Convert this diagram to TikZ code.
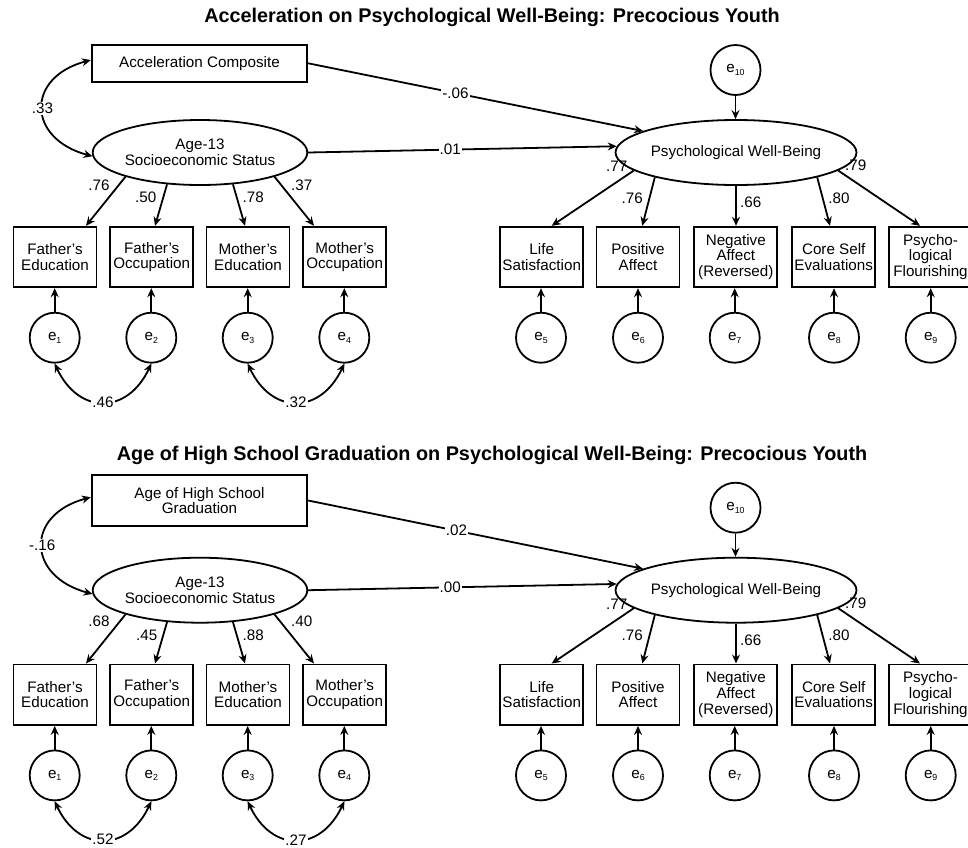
\documentclass[tikz,border=0pt]{standalone}
\usepackage{fontspec}
\setmainfont{Liberation Sans}
\usetikzlibrary{arrows.meta,shapes.geometric}
\newcommand\esub[1]{e\raisebox{-0.35ex}{\fontsize{8.8}{9}\selectfont #1}}
\tikzset{
  lw/.style={line width=1.8pt},
  ttl/.style={anchor=base, font=\fontsize{19.8}{22}\selectfont\bfseries, inner sep=0pt},
  obs/.style={draw, lw, rectangle, inner sep=0pt, align=center, font=\fontsize{15.2}{15.7}\selectfont},
  ind/.style={obs, minimum width=83, minimum height=60.6},
  lat/.style={draw, lw, ellipse, inner sep=0pt, align=center, font=\fontsize{15.2}{16.5}\selectfont},
  err/.style={draw, lw, circle, minimum size=50, inner sep=0pt, font=\fontsize{15.2}{15.7}\selectfont},
  tip/.tip={Stealth[length=9pt,width=8pt,inset=3pt]},
  arr/.style={lw, -tip},
  biarr/.style={lw, tip-tip},
  lbl/.style={font=\fontsize{15.2}{15.7}\selectfont, inner sep=1pt},
  lblw/.style={lbl, fill=white},
}
\begin{document}
\begin{tikzpicture}[x=1pt,y=1pt]
\useasboundingbox (0,0) rectangle (968,-847);
\clip (0,0) rectangle (968,-847);
\fill[white] (0,0) rectangle (968,-847);

% ================= TOP PANEL =================
\node[ttl] (t0) at (492,-22.7) {Acceleration on Psychological Well-Being: Precocious Youth};
\node[obs, minimum width=215.6, minimum height=36.7] (tacc) at (199.5,-63.3) {Acceleration Composite};
\node[lat, minimum width=214.6, minimum height=65] (tses) at (200,-152.5) {Age-13\\Socioeconomic Status};
\node[lat, minimum width=214, minimum height=65] (tpwb) at (736,-152.5) {Psychological Well-Being};
\node[err] (te10) at (735.5,-70) {\esub{10}};

\node[ind] (tfe) at (55,-257) {Father's\\Education};
\node[ind] (tfo) at (151.7,-257) {Father's\\Occupation};
\node[ind] (tme) at (248,-257) {Mother's\\Education};
\node[ind] (tmo) at (344.7,-257) {Mother's\\Occupation};
\node[ind] (tls) at (541.7,-257) {Life\\Satisfaction};
\node[ind] (tpa) at (638,-257) {Positive\\Affect};
\node[ind] (tna) at (735.8,-257) {Negative\\Affect\\(Reversed)};
\node[ind] (tcs) at (833.7,-257) {Core Self\\Evaluations};
\node[ind] (tpf) at (930.5,-257) {Psycho-\\logical\\Flourishing};

\node[err] (te1) at (54.7,-337.7) {\esub{1}};
\node[err] (te2) at (151.3,-337.7) {\esub{2}};
\node[err] (te3) at (247.7,-337.7) {\esub{3}};
\node[err] (te4) at (344.3,-337.7) {\esub{4}};
\node[err] (te5) at (541,-337.7) {\esub{5}};
\node[err] (te6) at (638,-337.7) {\esub{6}};
\node[err] (te7) at (734.7,-337.7) {\esub{7}};
\node[err] (te8) at (834,-337.7) {\esub{8}};
\node[err] (te9) at (930.7,-337.7) {\esub{9}};

\draw[arr] (te10.south) -- (te10.south |- tpwb.north);
\draw[arr] (tacc.east) -- (tpwb.167) node[lblw,pos=0.44] (tp1) {-.06};
\draw[arr] (tses.east) -- (tpwb.177) node[lblw,pos=0.46] (tp2) {.01};
\draw[biarr] ([yshift=3.3]tacc.west) to[out=195,in=165,looseness=1.8] node[lblw] (tc0) {.33} (tses.182);

\draw[arr] (tses.198) -- ([xshift=31]tfe.north);
\draw[arr] (tses.224) -- ([xshift=3.3]tfo.north);
\draw[arr] (tses.316) -- ([xshift=-3]tme.north);
\draw[arr] (tses.342) -- ([xshift=-30.7]tmo.north);
\node[lbl] (tl1) at (99,-185) {.76};
\node[lbl] (tl2) at (145.7,-197.3) {.50};
\node[lbl] (tl3) at (253.3,-197.3) {.78};
\node[lbl] (tl4) at (301.7,-185) {.37};

\draw[arr] (tpwb.190) -- ([xshift=10]tls.north);
\draw[arr] (tpwb.197) -- ([xshift=4.3]tpa.north);
\draw[arr] (tpwb.south) -- (tpwb.south |- tna.north);
\draw[arr] (tpwb.343) -- ([xshift=-3.7]tcs.north);
\draw[arr] (tpwb.350) -- ([xshift=-10.5]tpf.north);
\node[lbl] (tl5) at (616.7,-166) {.77};
\node[lbl] (tl6) at (632.3,-198.3) {.76};
\node[lbl] (tl7) at (750.7,-202.3) {.66};
\node[lbl] (tl8) at (839,-198.3) {.80};
\node[lbl] (tl9) at (855.7,-165) {.79};

\foreach \e/\b in {te1/tfe,te2/tfo,te3/tme,te4/tmo,te5/tls,te6/tpa,te7/tna,te8/tcs,te9/tpf}
  \draw[arr] (\e.north) -- (\e.north |- \b.south);

\draw[biarr] (te1.south) to[out=-65,in=-115,looseness=1.5] node[lblw] (tc1) {.46} (te2.south);
\draw[biarr] (te3.south) to[out=-65,in=-115,looseness=1.5] node[lblw] (tc2) {.32} (te4.south);

% ================= BOTTOM PANEL =================
\begin{scope}[yshift=-437.7pt]
\node[ttl] (b0) at (492,-23) {Age of High School Graduation on Psychological Well-Being: Precocious Youth};
\node[obs, minimum width=215.6, minimum height=51] (bacc) at (199.5,-62.8) {Age of High School\\Graduation};
\node[lat, minimum width=214.6, minimum height=65] (bses) at (200,-152.5) {Age-13\\Socioeconomic Status};
\node[lat, minimum width=214, minimum height=65] (bpwb) at (736,-152.5) {Psychological Well-Being};
\node[err] (be10) at (735.5,-70) {\esub{10}};

\node[ind] (bfe) at (55,-257) {Father's\\Education};
\node[ind] (bfo) at (151.7,-257) {Father's\\Occupation};
\node[ind] (bme) at (248,-257) {Mother's\\Education};
\node[ind] (bmo) at (344.7,-257) {Mother's\\Occupation};
\node[ind] (bls) at (541.7,-257) {Life\\Satisfaction};
\node[ind] (bpa) at (638,-257) {Positive\\Affect};
\node[ind] (bna) at (735.8,-257) {Negative\\Affect\\(Reversed)};
\node[ind] (bcs) at (833.7,-257) {Core Self\\Evaluations};
\node[ind] (bpf) at (930.5,-257) {Psycho-\\logical\\Flourishing};

\node[err] (be1) at (54.7,-337.7) {\esub{1}};
\node[err] (be2) at (151.3,-337.7) {\esub{2}};
\node[err] (be3) at (247.7,-337.7) {\esub{3}};
\node[err] (be4) at (344.3,-337.7) {\esub{4}};
\node[err] (be5) at (541,-337.7) {\esub{5}};
\node[err] (be6) at (638,-337.7) {\esub{6}};
\node[err] (be7) at (734.7,-337.7) {\esub{7}};
\node[err] (be8) at (834,-337.7) {\esub{8}};
\node[err] (be9) at (930.7,-337.7) {\esub{9}};

\draw[arr] (be10.south) -- (be10.south |- bpwb.north);
\draw[arr] (bacc.east) -- (bpwb.167) node[lblw,pos=0.443] (bp1) {.02};
\draw[arr] (bses.east) -- (bpwb.177) node[lblw,pos=0.46] (bp2) {.00};
\draw[biarr] ([yshift=3.3]bacc.west) to[out=195,in=165,looseness=1.8] node[lblw] (bc0) {-.16} (bses.182);

\draw[arr] (bses.198) -- ([xshift=31]bfe.north);
\draw[arr] (bses.224) -- ([xshift=3.3]bfo.north);
\draw[arr] (bses.316) -- ([xshift=-3]bme.north);
\draw[arr] (bses.342) -- ([xshift=-30.7]bmo.north);
\node[lbl] (bl1) at (99,-184) {.68};
\node[lbl] (bl2) at (146.7,-197.3) {.45};
\node[lbl] (bl3) at (253.3,-197.3) {.88};
\node[lbl] (bl4) at (301.7,-184) {.40};

\draw[arr] (bpwb.190) -- ([xshift=10]bls.north);
\draw[arr] (bpwb.197) -- ([xshift=4.3]bpa.north);
\draw[arr] (bpwb.south) -- (bpwb.south |- bna.north);
\draw[arr] (bpwb.343) -- ([xshift=-3.7]bcs.north);
\draw[arr] (bpwb.350) -- ([xshift=-10.5]bpf.north);
\node[lbl] (bl5) at (616.7,-166.6) {.77};
\node[lbl] (bl6) at (632.3,-197.3) {.76};
\node[lbl] (bl7) at (750.7,-202.3) {.66};
\node[lbl] (bl8) at (839,-197.3) {.80};
\node[lbl] (bl9) at (855.7,-165.6) {.79};

\foreach \e/\b in {be1/bfe,be2/bfo,be3/bme,be4/bmo,be5/bls,be6/bpa,be7/bna,be8/bcs,be9/bpf}
  \draw[arr] (\e.north) -- (\e.north |- \b.south);

\draw[biarr] (be1.south) to[out=-65,in=-115,looseness=1.5] node[lblw] (bc1) {.52} (be2.south);
\draw[biarr] (be3.south) to[out=-65,in=-115,looseness=1.5] node[lblw] (bc2) {.27} (be4.south);
\end{scope}
\end{tikzpicture}
\end{document}
